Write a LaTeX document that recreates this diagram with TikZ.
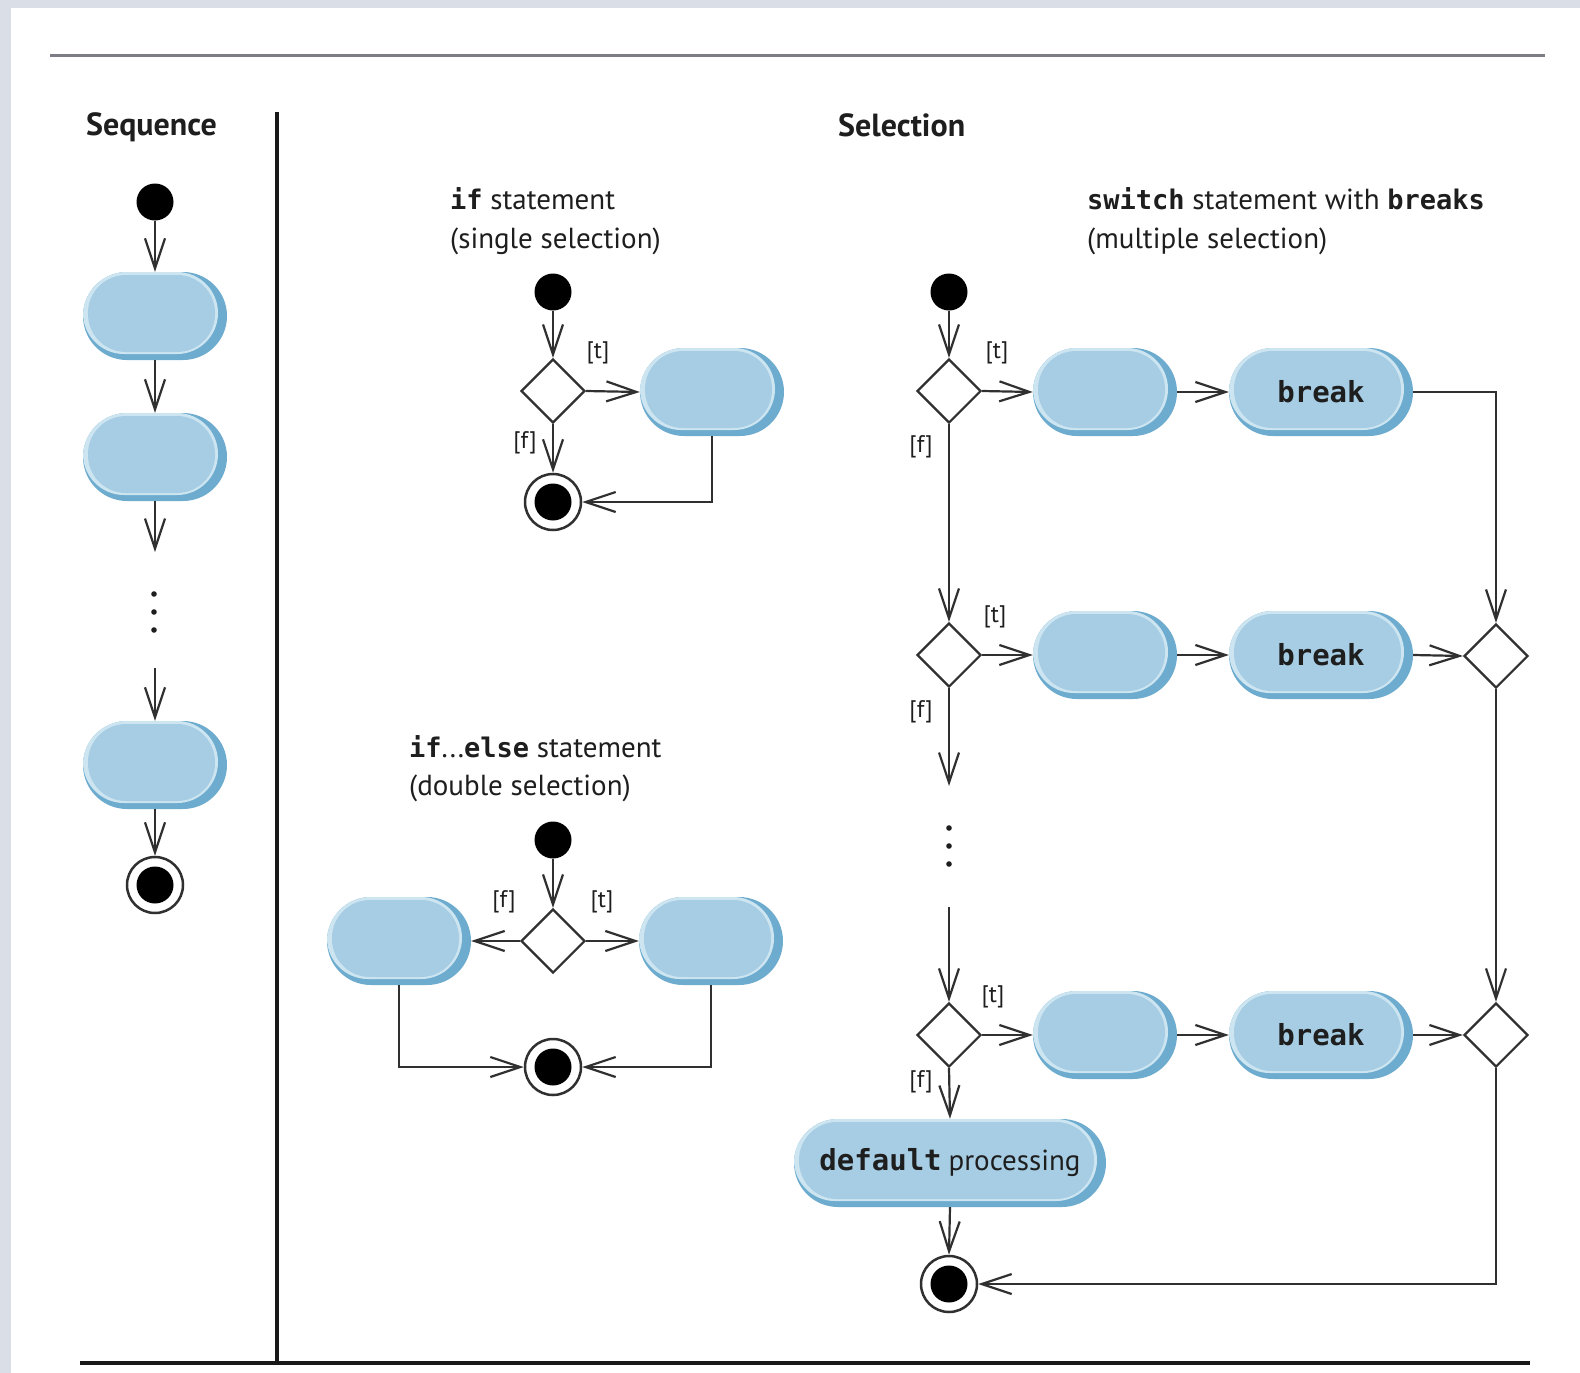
\documentclass[tikz,border=0pt]{standalone}
\usepackage{fontspec}
\setmainfont{PT Sans}
\newfontfamily\codefont{DejaVu Sans Mono}
\usetikzlibrary{arrows.meta,shapes.misc,shapes.geometric,calc}

\definecolor{rimblue}{RGB}{110,172,207}
\definecolor{bodyblue}{RGB}{166,205,228}
\definecolor{hiblue}{RGB}{205,229,241}
\definecolor{ink}{RGB}{48,48,48}
\definecolor{textink}{RGB}{30,30,30}
\definecolor{bandgray}{RGB}{218,222,230}
\definecolor{ruleggray}{RGB}{125,125,134}

\tikzset{
  flow/.style={draw=ink, line width=2.2pt,
    -{Straight Barb[length=30pt,width=20pt,line width=2.2pt]}},
  act/.style={rounded rectangle, minimum height=88pt, minimum width=#1,
    inner sep=0pt, fill=rimblue, text=textink,
    font=\codefont\bfseries\fontsize{29}{32}\selectfont,
    path picture={
      \fill[hiblue, rounded corners=41pt]
        (path picture bounding box.north west) rectangle
        ($(path picture bounding box.south east)+(-9,-6)$);
      \fill[bodyblue, rounded corners=38pt]
        ($(path picture bounding box.north west)+(5,3)$) rectangle
        ($(path picture bounding box.south east)+(-12,-8)$);
    }},
  act/.default=144pt,
  startdot/.style={circle, fill=black, minimum size=37pt, inner sep=0pt},
  enddot/.style={circle, draw=ink, line width=2.5pt, fill=white,
    minimum size=56pt, inner sep=0pt,
    path picture={\fill[black] (path picture bounding box.center) circle (18.5pt);}},
  choice/.style={diamond, draw=ink, line width=2.2pt, fill=white,
    minimum width=64pt, minimum height=64pt, inner sep=0pt},
  guard/.style={font=\fontsize{24}{26}\selectfont, text=textink, inner sep=0pt},
  heading/.style={font=\bfseries\fontsize{32}{34}\selectfont, text=textink,
    anchor=west, inner sep=0pt},
  caption/.style={font=\fontsize{29}{32}\selectfont, text=textink,
    anchor=west, inner sep=0pt}
}
\newcommand{\kwd}[1]{{\codefont\bfseries\fontsize{27}{32}\selectfont #1}}

\begin{document}
\begin{tikzpicture}[x=1pt,y=-1pt]
  % page frame
  \useasboundingbox (0,0) rectangle (1580,1373);
  \fill[white] (0,0) rectangle (1580,1373);
  \fill[bandgray] (0,0) rectangle (1580,8);
  \fill[bandgray] (0,0) rectangle (11,1373);

  % rules
  \draw[ruleggray, line width=3pt] (50,55) -- (1545,55);
  \draw[black!90, line width=4pt] (80,1363) -- (1530,1363);
  \draw[black!90, line width=4pt] (277,112) -- (277,1363);

  % headings
  \node[heading] (hseq) at (86,127) {Sequence};
  \node[heading] (hsel) at (838,125) {Selection};
  \node[caption] (cif1) at (450,199) {\kwd{if} statement};
  \node[caption] (cif2) at (450,241) {(single selection)};
  \node[caption] (cie1) at (409,747) {\kwd{if}...\kwd{else} statement};
  \node[caption] (cie2) at (409,788) {(double selection)};
  \node[caption] (csw1) at (1087,199) {\kwd{switch} statement with \kwd{breaks}};
  \node[caption] (csw2) at (1087,241) {(multiple selection)};

  % ---- sequence ----
  \node[startdot] (s0) at (155,202) {};
  \node[act] (s1) at (155,316) {};
  \node[act] (s2) at (155,457) {};
  \coordinate (sa) at (155,552);
  \coordinate (sb) at (155,668);
  \node[act] (s3) at (155,765) {};
  \node[enddot] (sE) at (155,885) {};
  \foreach \yy in {594,612,630} \fill[textink] (154,\yy) circle (2.8pt);
  \draw[flow] (s0) -- (s1);
  \draw[flow] (s1) -- (s2);
  \draw[flow] (s2) -- (sa);
  \draw[flow] (sb) -- (s3);
  \draw[flow] (s3) -- (sE);

  % ---- if ----
  \node[startdot] (i0) at (553,292) {};
  \node[choice] (id) at (553,391) {};
  \node[act] (ia) at (712,392) {};
  \node[enddot] (iE) at (553,502) {};
  \draw[flow] (i0) -- (id);
  \draw[flow] (id.east) -- (ia.west);
  \draw[flow] (id.south) -- (iE.north);
  \draw[flow] (ia.south) |- (iE.east);
  \node[guard] (it) at (598,353) {[t]};
  \node[guard] (if) at (525,443) {[f]};

  % ---- if...else ----
  \node[startdot] (e0) at (553,840) {};
  \node[choice] (ed) at (553,941) {};
  \node[act] (eL) at (399,941) {};
  \node[act] (eR) at (711,941) {};
  \node[enddot] (eE) at (553,1067) {};
  \draw[flow] (e0) -- (ed);
  \draw[flow] (ed.west) -- (eL.east);
  \draw[flow] (ed.east) -- (eR.west);
  \draw[flow] (eL.south) |- (eE.west);
  \draw[flow] (eR.south) |- (eE.east);
  \node[guard] (ef) at (504,902) {[f]};
  \node[guard] (et) at (602,902) {[t]};

  % ---- switch ----
  \node[startdot] (w0) at (949,292) {};
  \node[choice] (d1) at (949,391) {};
  \node[act] (a1) at (1105,392) {};
  \node[act=184pt] (b1) at (1321,392) {break};
  \node[choice] (d2) at (949,655) {};
  \node[act] (a2) at (1105,655) {};
  \node[act=184pt] (b2) at (1321,655) {break};
  \node[choice] (m2) at (1496,656) {};
  \coordinate (wa) at (949,786);
  \coordinate (wb) at (949,907);
  \node[choice] (d3) at (949,1035) {};
  \node[act] (a3) at (1105,1035) {};
  \node[act=184pt] (b3) at (1321,1035) {break};
  \node[choice] (m3) at (1496,1035) {};
  \node[act=312pt] (wd) at (950,1163)
    {default\hspace{7pt}{\fontspec{PT Sans}\mdseries\fontsize{29}{32}\selectfont processing}};
  \node[enddot] (wE) at (949,1284) {};
  \foreach \yy in {828,846,864} \fill[textink] (949,\yy) circle (2.8pt);

  \draw[flow] (w0) -- (d1);
  \draw[flow] (d1.east) -- (a1.west);
  \draw[flow] (a1.east) -- (b1.west);
  \draw[flow] (b1.east) -| (m2.north);
  \draw[flow] (d1.south) -- (d2.north);
  \draw[flow] (d2.east) -- (a2.west);
  \draw[flow] (a2.east) -- (b2.west);
  \draw[flow] (b2.east) -- (m2.west);
  \draw[flow] (d2.south) -- (wa);
  \draw[flow] (wb) -- (d3.north);
  \draw[flow] (d3.east) -- (a3.west);
  \draw[flow] (a3.east) -- (b3.west);
  \draw[flow] (b3.east) -- (m3.west);
  \draw[flow] (m2.south) -- (m3.north);
  \draw[flow] (d3.south) -- (wd.north);
  \draw[flow] (wd.south) -- (wE.north);
  \draw[flow] (m3.south) |- (wE.east);

  \node[guard] (t1) at (997,353) {[t]};
  \node[guard] (f1) at (921,447) {[f]};
  \node[guard] (t2) at (995,617) {[t]};
  \node[guard] (f2) at (921,712) {[f]};
  \node[guard] (t3) at (993,997) {[t]};
  \node[guard] (f3) at (921,1082) {[f]};
\end{tikzpicture}
\end{document}
